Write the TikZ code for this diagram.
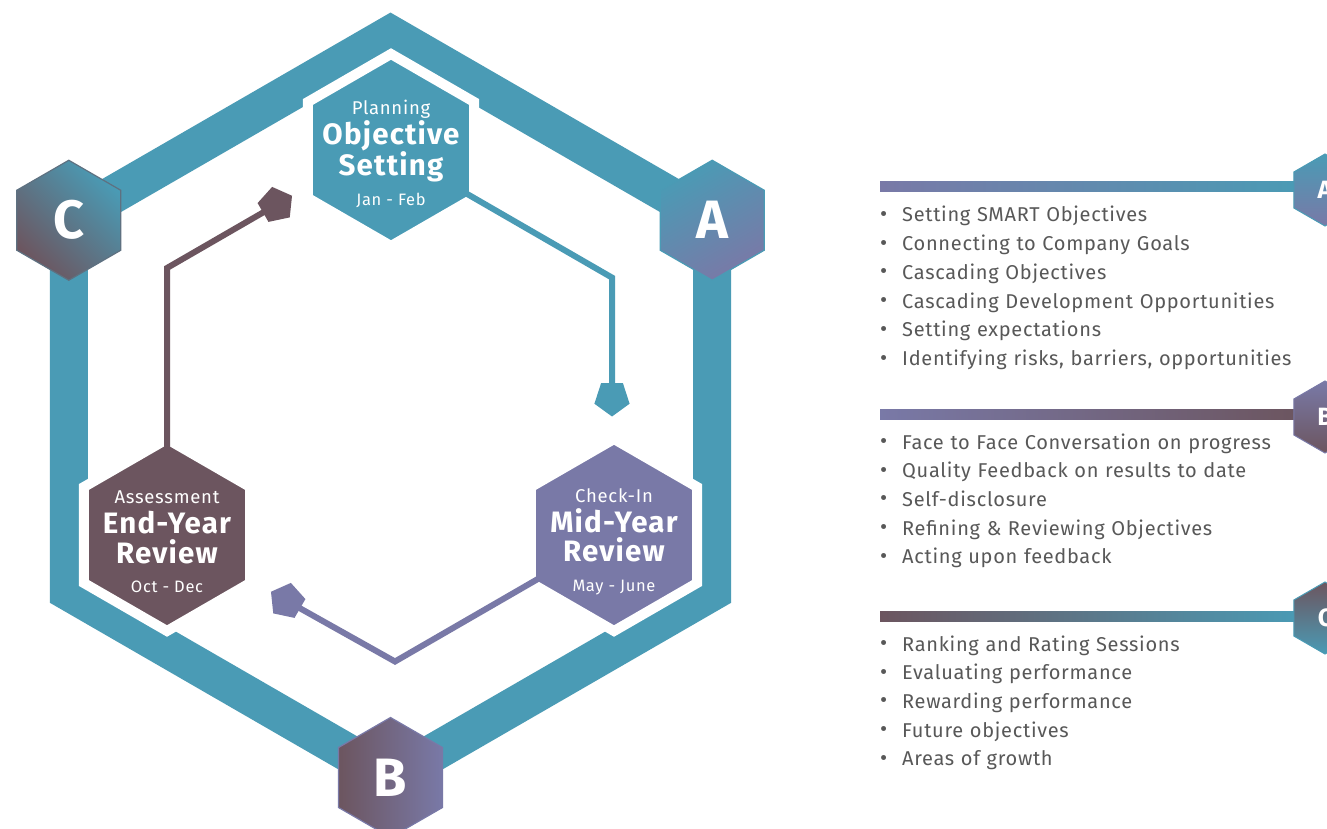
\documentclass[tikz,border=0pt]{standalone}
\usepackage{fontspec}
\setmainfont{Fira Sans}
\newfontfamily\listfont{Fira Sans}[LetterSpace=3.5]
\newfontfamily\stagefont{Fira Sans}[LetterSpace=4]
\usepackage{tikz}
\usetikzlibrary{shapes.geometric,calc}
\definecolor{ringteal}{RGB}{74,155,181}
\definecolor{mauve}{RGB}{108,85,95}
\definecolor{lavender}{RGB}{121,121,167}
\definecolor{listgrey}{RGB}{88,88,88}
\newcommand\stagebig{\fontsize{29.5}{29.6}\selectfont\bfseries}
\newcommand\stagedate{\fontsize{16.5}{29.6}\selectfont}
\newcommand\listitem[1]{\makebox[22pt][l]{\raisebox{0.5pt}{\fontsize{22}{22}\selectfont\textbullet}}#1}
\tikzset{
  hexa/.style={regular polygon, regular polygon sides=6, shape border rotate=30, inner sep=0pt},
  stage/.style={hexa, minimum size=192pt, draw=white, line width=10pt},
  corner/.style={hexa, minimum size=120pt, line width=1.2pt, text=white, font=\fontsize{54}{54}\selectfont\bfseries},
  tag/.style={hexa, minimum size=72pt, line width=1pt, text=white, font=\fontsize{25}{25}\selectfont\bfseries},
  flow/.style={line width=6pt},
  head/.style={regular polygon, regular polygon sides=5, minimum size=37pt, inner sep=0pt},
  bar/.style={rectangle, minimum width=420pt, minimum height=10pt, inner sep=0pt},
  stagetext/.style={text=white, align=center, font=\stagefont\fontsize{18.5}{29.6}\selectfont},
  listtext/.style={text=listgrey, text width=450pt, align=left, anchor=base west, inner sep=0pt, font=\listfont\fontsize{20}{28.7}\selectfont}
}
\begin{document}
\begin{tikzpicture}[x=1pt,y=1pt]
\useasboundingbox (0,0) rectangle (1327,-829);
\fill[white] (0,0) rectangle (1327,-829);

\node[hexa, minimum size=743pt, draw=ringteal, line width=38pt] (ring) at (390.5,-406) {};

\node[stage, fill=ringteal] (objective) at (391,-150) {};
\node[stage, fill=lavender] (midyear) at (614,-535) {};
\node[stage, fill=mauve] (endyear) at (167,-535) {};

\node[head, fill=ringteal, rotate=180] (headA) at (612,-398) {};
\node[head, fill=lavender, rotate=60] (headB) at (287,-601) {};
\node[head, fill=mauve, rotate=-60] (headC) at (276,-205) {};
\coordinate (bendA) at (612,-277.6);
\coordinate (bendB) at (395,-661.5);
\coordinate (bendC) at (167,-268);

\draw[flow, ringteal] (objective.center) -- (bendA) -- (headA.center);
\draw[flow, lavender] (midyear.center) -- (bendB) -- (headB.center);
\draw[flow, mauve] (endyear.center) -- (bendC) -- (headC.center);

\node[stagetext] (objtext) at ($(objective)+(0,-4)$) {Planning\\{\stagebig Objective}\\{\stagebig Setting}\\{\stagedate Jan - Feb}};
\node[stagetext] (midtext) at ($(midyear)+(0,-7)$) {Check-In\\{\stagebig Mid-Year}\\{\stagebig Review}\\{\stagedate May - June}};
\node[stagetext] (endtext) at ($(endyear)+(0,-7)$) {Assessment\\{\stagebig End-Year}\\{\stagebig Review}\\{\stagedate Oct - Dec}};

\node[corner, draw=ringteal, top color=ringteal, bottom color=lavender, shading angle=30] (A) at ($(ring.center)+(30:371.5)$) {A};
\node[corner, draw=lavender, left color=mauve, right color=lavender] (B) at ($(ring.center)+(270:371.5)$) {B};
\node[corner, draw=mauve!60!ringteal, top color=ringteal, bottom color=mauve, shading angle=-45] (C) at ($(ring.center)+(150:371.5)$) {C};

\node[bar, left color=lavender, right color=ringteal] (barA) at (1090,-187) {};
\node[bar, left color=lavender, right color=mauve] (barB) at (1090,-414) {};
\node[bar, left color=mauve, right color=ringteal] (barC) at (1090,-616) {};
\node[tag, draw=ringteal, top color=ringteal, bottom color=lavender] (tagA) at (1325,-190) {A};
\node[tag, draw=lavender, top color=lavender, bottom color=mauve] (tagB) at (1325,-417) {B};
\node[tag, draw=ringteal, top color=mauve, bottom color=ringteal] (tagC) at (1325,-618) {C};

\node[listtext] (listA) at (880,-222) {\listitem{Setting SMART Objectives}\\\listitem{Connecting to Company Goals}\\\listitem{Cascading Objectives}\\\listitem{Cascading Development Opportunities}\\\listitem{Setting expectations}\\\listitem{Identifying risks, barriers, opportunities}};
\node[listtext] (listB) at (880,-449) {\listitem{Face to Face Conversation on progress}\\\listitem{Quality Feedback on results to date}\\\listitem{Self-disclosure}\\\listitem{Refining \& Reviewing Objectives}\\\listitem{Acting upon feedback}};
\node[listtext] (listC) at (880,-651) {\listitem{Ranking and Rating Sessions}\\\listitem{Evaluating performance}\\\listitem{Rewarding performance}\\\listitem{Future objectives}\\\listitem{Areas of growth}};
\end{tikzpicture}
\end{document}
